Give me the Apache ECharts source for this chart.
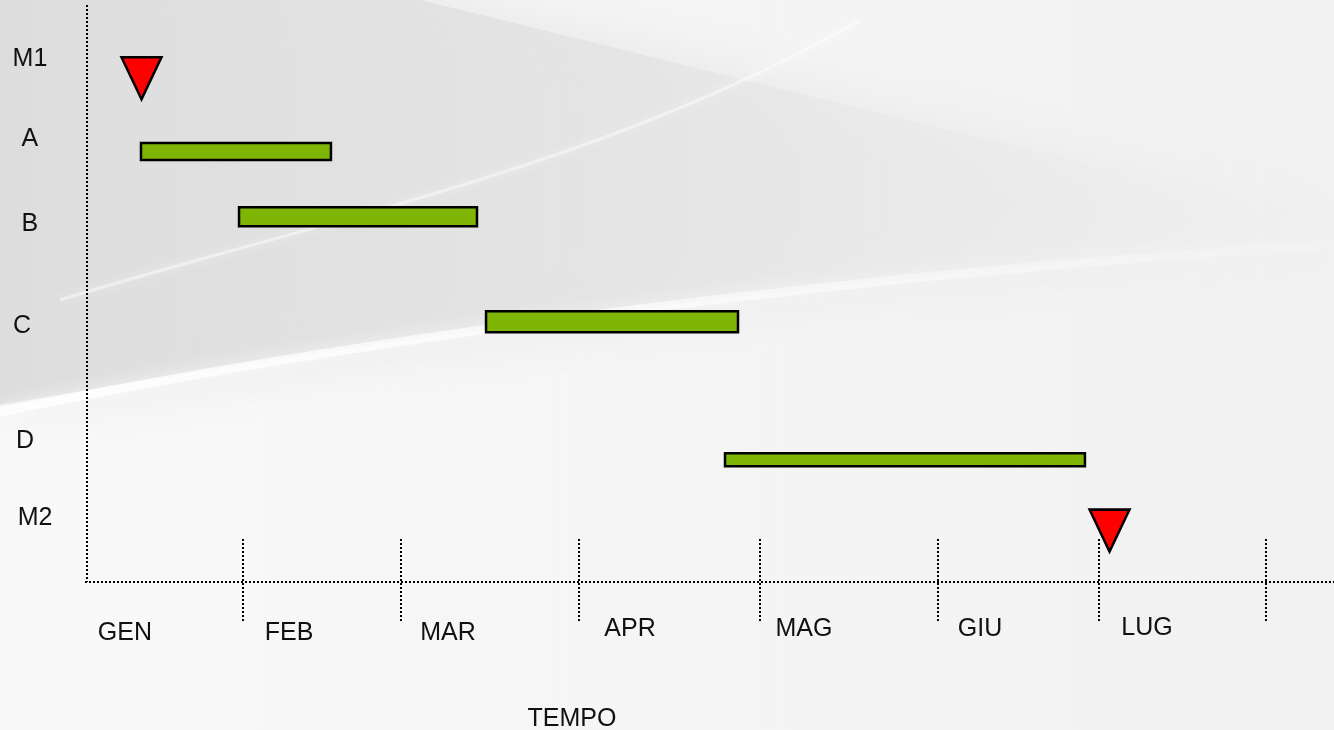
<!DOCTYPE html>
<html>
<head>
<meta charset="utf-8">
<script src="https://cdn.jsdelivr.net/npm/echarts@6/dist/echarts.min.js"></script>
<style>
  html, body { margin: 0; padding: 0; background: #f4f4f4; }
  #chart { width: 1334px; height: 730px; }
</style>
</head>
<body>
<div id="chart"></div>
<script>
// x = months from the time axis origin, y = rows from the top (10 = time axis)
const xMax = 7.3;
const yMax = 10;

const rowNames = ['M1', 'A', 'B', 'C', 'D', 'M2'];
const rowLabelX = [-0.334, -0.334, -0.334, -0.381, -0.363, -0.304];
const rowLabelY = [0.94, 2.33, 3.80, 5.57, 7.56, 8.90];

const taskNames = ['A', 'B', 'C', 'D'];
const taskStart = [0.316, 0.890, 2.336, 3.735];
const taskEnd = [1.428, 2.283, 3.811, 5.842];
const taskRow = [2.54, 3.67, 5.49, 7.88];

const milestoneNames = ['M1', 'M2'];
const milestoneX = [0.319, 5.986];
const milestoneY = [1.27, 9.11];

const months = ['GEN', 'FEB', 'MAR', 'APR', 'MAG', 'GIU', 'LUG'];
const monthLabelX = [0.222, 1.183, 2.113, 3.179, 4.197, 5.228, 6.205];
const monthLabelY = [10.89, 10.89, 10.89, 10.82, 10.82, 10.82, 10.80];
const monthBounds = [0.913, 1.838, 2.880, 3.940, 4.982, 5.924, 6.902];
const boundSpan = [9.26, 10.70];

const axisTitle = ['TEMPO'];
const axisTitleX = [2.839];
const axisTitleY = [12.38];

// styles
const barHeights = [17, 19, 21, 13];
const FONT = '"Liberation Sans", Arial, sans-serif';
const DOTS = [2, 2];

// background swoosh helper (decoration only)
function bez(p0, p1, p2, p3, n) {
  const pts = [];
  for (let i = 0; i <= n; i++) {
    const t = i / n, u = 1 - t;
    pts.push([
      u * u * u * p0[0] + 3 * u * u * t * p1[0] + 3 * u * t * t * p2[0] + t * t * t * p3[0],
      u * u * u * p0[1] + 3 * u * u * t * p1[1] + 3 * u * t * t * p2[1] + t * t * t * p3[1]
    ]);
  }
  return pts;
}

const chart = echarts.init(document.getElementById('chart'), null, { renderer: 'canvas' });

const textItems = []
  .concat(rowNames.map((t, i) => [rowLabelX[i], rowLabelY[i], t]))
  .concat(months.map((t, i) => [monthLabelX[i], monthLabelY[i], t]))
  .concat(axisTitle.map((t, i) => [axisTitleX[i], axisTitleY[i], t]));

// axis frame: vertical axis at x = 0, time axis at y = yMax
const frame = [[0, 0, 0, yMax], [-0.012, yMax, xMax, yMax]];

const grayWedge = [[0, 0]]
  .concat(bez([420, 0], [750, 80], [1050, 160], [1334, 215], 40))
  .concat(bez([1334, 240], [1050, 262], [600, 300], [0, 405], 40));

// dotted segment, snapped to whole pixels so the dots stay crisp
function dottedLine(api, from, to) {
  const a = api.coord(from), b = api.coord(to);
  return {
    type: 'line',
    shape: { x1: Math.round(a[0]), y1: Math.round(a[1]), x2: Math.round(b[0]), y2: Math.round(b[1]) },
    style: { stroke: '#000', lineWidth: 2, lineDash: DOTS }
  };
}

chart.setOption({
  backgroundColor: '#f4f4f4',
  animation: false,
  graphic: [
    {
      type: 'rect', z: -100, silent: true,
      shape: { x: 0, y: 0, width: 1334, height: 730 },
      style: {
        fill: new echarts.graphic.LinearGradient(0, 0, 1, 0, [
          { offset: 0, color: '#f9f9f9' },
          { offset: 0.5, color: '#f5f5f5' },
          { offset: 1, color: '#f1f1f1' }
        ])
      }
    },
    {
      type: 'polygon', z: -99, silent: true,
      shape: { points: grayWedge },
      style: {
        fill: new echarts.graphic.LinearGradient(0, 0, 1, 0, [
          { offset: 0, color: 'rgba(221,221,221,1)' },
          { offset: 0.45, color: 'rgba(228,228,228,0.95)' },
          { offset: 0.8, color: 'rgba(236,236,236,0.6)' },
          { offset: 1, color: 'rgba(241,241,241,0.2)' }
        ]),
        shadowBlur: 60,
        shadowColor: 'rgba(226,226,226,0.9)'
      }
    },
    {
      type: 'bezierCurve', z: -97, silent: true,
      shape: { x1: 0, y1: 412, cpx1: 400, cpy1: 330, cpx2: 900, cpy2: 270, x2: 1334, y2: 245 },
      style: {
        fill: null,
        stroke: new echarts.graphic.LinearGradient(0, 0, 1, 0, [
          { offset: 0, color: 'rgba(255,255,255,0.85)' },
          { offset: 0.5, color: 'rgba(255,255,255,0.6)' },
          { offset: 1, color: 'rgba(255,255,255,0.1)' }
        ]),
        lineWidth: 9, shadowBlur: 16, shadowColor: 'rgba(255,255,255,0.9)'
      }
    },
    {
      type: 'bezierCurve', z: -97, silent: true,
      shape: { x1: 60, y1: 300, cpx1: 300, cpy1: 225, cpx2: 600, cpy2: 170, x2: 860, y2: 20 },
      style: { fill: null, stroke: 'rgba(255,255,255,0.45)', lineWidth: 3, shadowBlur: 8, shadowColor: 'rgba(255,255,255,0.9)' }
    }
  ],
  grid: { left: 87, right: 0, top: 5, bottom: 148, containLabel: false },
  xAxis: {
    type: 'value', min: 0, max: xMax,
    axisLine: { show: false }, axisTick: { show: false }, axisLabel: { show: false }, splitLine: { show: false }
  },
  yAxis: {
    type: 'value', min: 0, max: yMax, inverse: true,
    axisLine: { show: false }, axisTick: { show: false }, axisLabel: { show: false }, splitLine: { show: false }
  },
  series: [
    {
      name: 'axes',
      type: 'custom', clip: false, z: 3,
      data: frame,
      encode: { x: [0, 2], y: [1, 3] },
      renderItem: (params, api) =>
        dottedLine(api, [api.value(0), api.value(1)], [api.value(2), api.value(3)])
    },
    {
      name: 'month bounds',
      type: 'custom', clip: false, z: 3,
      data: monthBounds.map(v => [v]),
      encode: { x: 0 },
      renderItem: (params, api) =>
        dottedLine(api, [api.value(0), boundSpan[0]], [api.value(0), boundSpan[1]])
    },
    {
      name: 'tasks',
      type: 'custom', z: 4,
      data: taskNames.map((n, i) => [taskStart[i], taskEnd[i], taskRow[i], n]),
      encode: { x: [0, 1], y: 2 },
      renderItem: (params, api) => {
        const s = api.coord([api.value(0), api.value(2)]);
        const e = api.coord([api.value(1), api.value(2)]);
        const h = barHeights[params.dataIndex];
        return {
          type: 'rect',
          shape: { x: s[0], y: s[1] - h / 2, width: e[0] - s[0], height: h },
          style: { fill: '#7fb505', stroke: '#000', lineWidth: 2.5 }
        };
      }
    },
    {
      name: 'milestones',
      type: 'scatter', z: 5,
      symbol: 'triangle', symbolRotate: 180, symbolSize: [40, 42],
      itemStyle: { color: '#ff0000', borderColor: '#000', borderWidth: 2.5, opacity: 1 },
      data: milestoneNames.map((n, i) => ({ name: n, value: [milestoneX[i], milestoneY[i]] }))
    },
    {
      name: 'labels',
      type: 'custom', clip: false, z: 6,
      data: textItems,
      encode: { x: 0, y: 1 },
      renderItem: (params, api) => {
        const p = api.coord([api.value(0), api.value(1)]);
        return {
          type: 'text', x: p[0], y: p[1],
          style: {
            text: textItems[params.dataIndex][2],
            fill: '#111', fontSize: 25, fontFamily: FONT,
            align: 'center', verticalAlign: 'middle'
          }
        };
      }
    }
  ]
});
</script>
</body>
</html>
